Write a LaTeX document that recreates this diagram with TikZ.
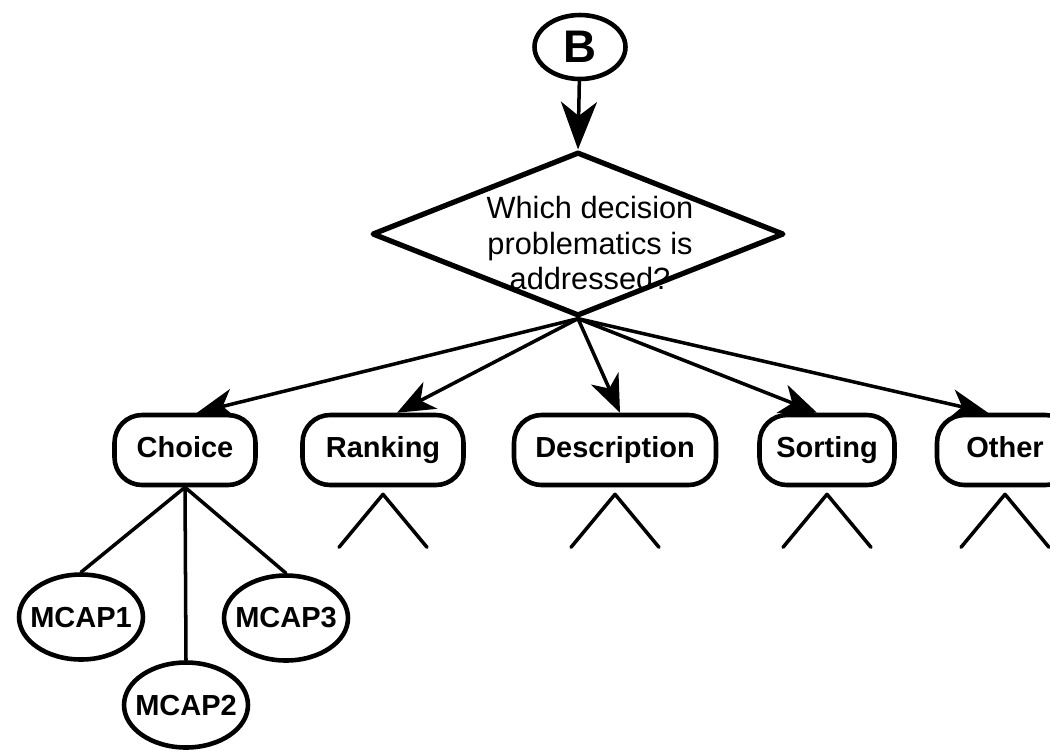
\documentclass[tikz,border=0pt]{standalone}
\usepackage{fontspec}
\setmainfont{Liberation Sans}
\usetikzlibrary{shapes.geometric,arrows.meta}
\tikzset{
  choicebox/.style={draw, line width=2.6pt, rounded corners=0.55cm, minimum height=1.4cm,
    inner sep=0pt, text height=12pt, text depth=3pt, font=\fontsize{16.5}{19}\selectfont\bfseries},
  mcap/.style={draw, ellipse, line width=2.6pt, minimum width=2.48cm, minimum height=1.7cm,
    inner xsep=-4pt, inner ysep=0pt, font=\fontsize{16.5}{19}\selectfont\bfseries},
  link/.style={line width=2pt, -{Stealth[length=0.75cm, width=0.6cm, inset=0.22cm]}},
  twig/.style={line width=2pt}
}
\begin{document}
\begin{tikzpicture}[x=0.02cm, y=-0.02cm, line cap=round, line join=round]
  \useasboundingbox (0,0) rectangle (1050,752);
  % entry point and question
  \node[draw, ellipse, line width=2.6pt, minimum width=1.82cm, minimum height=1.28cm, inner sep=0pt,
    font=\fontsize{26}{28}\selectfont\bfseries] (b) at (580,47) {B};
  \node[draw, diamond, line width=3pt, minimum width=8.24cm, minimum height=3.28cm, inner sep=0pt] (q) at (578,234) {};
  \node[align=center, font=\fontsize{17.5}{20}\selectfont] (qtext) at (590,243) {Which decision\\problematics is\\addressed?};
  \draw[link, -{Stealth[length=0.95cm, width=0.72cm, inset=0.28cm]}] (b) -- (q.north);
  % problematics
  \node[choicebox, minimum width=2.82cm] (choice) at (185,450) {Choice};
  \node[choicebox, minimum width=3.22cm] (rank) at (383,450) {Ranking};
  \node[choicebox, minimum width=4.04cm] (descr) at (615,450) {Description};
  \node[choicebox, minimum width=2.7cm] (sort) at (827,450) {Sorting};
  \node[choicebox, minimum width=2.72cm] (other) at (1005,450) {Other};
  \draw[link] (q.south) -- ([xshift=0.24cm]choice.north);
  \draw[link] (q.south) -- ([xshift=0.28cm]rank.north);
  \draw[link] (q.south) -- ([xshift=0.1cm]descr.north);
  \draw[link] (q.south) -- ([xshift=-0.2cm]sort.north);
  \draw[link] (q.south) -- ([xshift=-0.34cm]other.north);
  % collapsed subtrees
  \foreach \n in {rank,descr,sort,other}
    \draw[twig] ([shift={(-0.88cm,-1.2cm)}]\n.south) -- ([yshift=-0.14cm]\n.south) -- ([shift={(0.88cm,-1.2cm)}]\n.south);
  % choice methods
  \node[mcap] (m1) at (81,617) {MCAP1};
  \node[mcap] (m2) at (186,705) {MCAP2};
  \node[mcap] (m3) at (286,618) {MCAP3};
  \draw[twig] (choice.south) -- (m1.north);
  \draw[twig] (choice.south) -- (m2.north);
  \draw[twig] (choice.south) -- (m3.north);
\end{tikzpicture}
\end{document}
